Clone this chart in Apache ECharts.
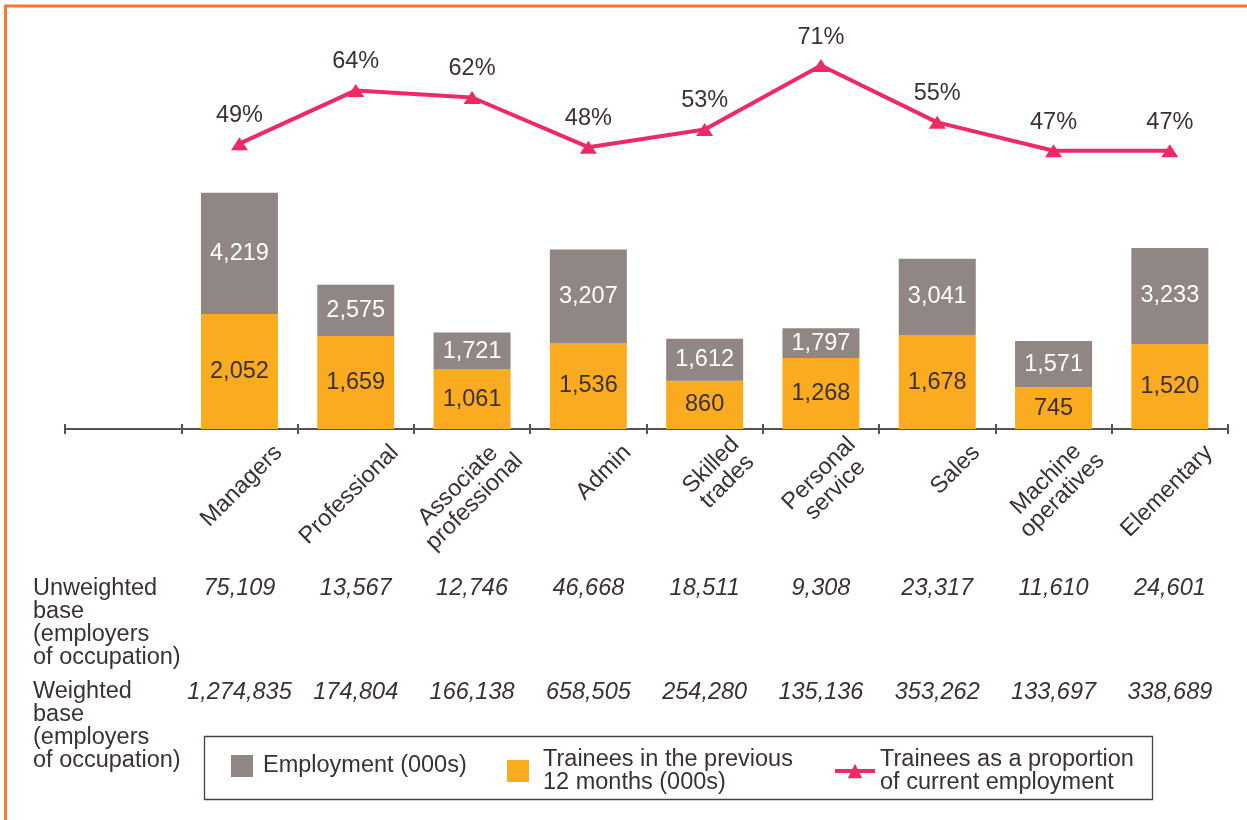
<!DOCTYPE html>
<html>
<head>
<meta charset="utf-8">
<script src="https://cdn.jsdelivr.net/npm/echarts@6/dist/echarts.min.js"></script>
<style>
  html, body { margin: 0; padding: 0; background: #ffffff; }
  #chart { width: 1247px; height: 820px; }
</style>
</head>
<body>
<div id="chart"></div>
<script>
// ---- Data ----
const categories = ['Managers', 'Professional', 'Associate\nprofessional', 'Admin', 'Skilled\ntrades', 'Personal\nservice', 'Sales', 'Machine\noperatives', 'Elementary'];
const employment = [4219, 2575, 1721, 3207, 1612, 1797, 3041, 1571, 3233];
const trainees = [2052, 1659, 1061, 1536, 860, 1268, 1678, 745, 1520];
const proportion = [49, 64, 62, 48, 53, 71, 55, 47, 47];
const unweightedBase = [75109, 13567, 12746, 46668, 18511, 9308, 23317, 11610, 24601];
const weightedBase = [1274835, 174804, 166138, 658505, 254280, 135136, 353262, 133697, 338689];
const rowTitles = ['Unweighted\nbase\n(employers\nof occupation)', 'Weighted\nbase\n(employers\nof occupation)'];
const seriesNames = ['Employment (000s)', 'Trainees in the previous\n12 months (000s)', 'Trainees as a proportion\nof current employment'];

// ---- Styling ----
const FONT = '"Liberation Sans", Arial, Helvetica, sans-serif';
const FS = 23.5;
const TXT = '#3b3134';
const GRAY = '#908683';
const ORANGE = '#fbab1f';
const PINK = '#ec2a65';
const AXIS = '#5b5054';

const fmt = n => n.toLocaleString('en-US');
const cats = [''].concat(categories);
const pad = arr => [null].concat(arr);
const grayPart = employment.map((e, i) => e - trainees[i]);

const chart = echarts.init(document.getElementById('chart'), null, { renderer: 'canvas' });

const gridBase = { top: 51, bottom: 391, containLabel: false, outerBoundsMode: 'none' };
const legendText = { fontFamily: FONT, fontSize: FS, color: TXT, lineHeight: 23 };

chart.setOption({
  animation: false,
  backgroundColor: '#ffffff',
  textStyle: { fontFamily: FONT, color: TXT },
  grid: [
    Object.assign({ left: 65, width: 1163 }, gridBase),
    Object.assign({ left: 104, width: 1163 }, gridBase)
  ],
  legend: [
    {
      data: [seriesNames[0]], left: 231, top: 754, padding: 0, itemWidth: 22, itemHeight: 22,
      icon: 'rect', selectedMode: false,
      textStyle: Object.assign({ padding: [0, 0, 0, 5] }, legendText)
    },
    {
      data: [seriesNames[1]], left: 507, top: 747.5, padding: 0, itemWidth: 22, itemHeight: 22,
      icon: 'rect', selectedMode: false,
      textStyle: Object.assign({ padding: [0, 0, 0, 9] }, legendText)
    },
    {
      data: [seriesNames[2]], left: 833, top: 747.5, padding: 0, itemWidth: 40, itemHeight: 18,
      selectedMode: false,
      lineStyle: { width: 4, color: PINK },
      itemStyle: { color: PINK },
      textStyle: Object.assign({ padding: [0, 0, 0, 0] }, legendText)
    }
  ],
  xAxis: [
    {
      gridIndex: 0, type: 'category', data: cats, position: 'bottom',
      axisLine: { show: true, onZero: false, lineStyle: { color: AXIS, width: 2 } },
      axisTick: { show: true, inside: false, length: 5, lineStyle: { color: AXIS, width: 2 } },
      axisLabel: { show: false }, splitLine: { show: false }
    },
    {
      gridIndex: 0, type: 'category', data: cats, position: 'bottom', offset: 0,
      axisLine: { show: false, onZero: false },
      axisTick: { show: true, inside: true, length: 5, lineStyle: { color: AXIS, width: 2 } },
      axisLabel: { show: false }, splitLine: { show: false }
    },
    {
      gridIndex: 0, type: 'category', data: [''].concat(unweightedBase.map(fmt)), position: 'bottom', offset: 148,
      axisLine: { show: false, onZero: false }, axisTick: { show: false }, splitLine: { show: false },
      axisLabel: { interval: 0, hideOverlap: false, margin: 0, fontFamily: FONT, fontSize: FS, fontStyle: 'italic', color: TXT, lineHeight: 23 }
    },
    {
      gridIndex: 0, type: 'category', data: [''].concat(weightedBase.map(fmt)), position: 'bottom', offset: 251.5,
      axisLine: { show: false, onZero: false }, axisTick: { show: false }, splitLine: { show: false },
      axisLabel: { interval: 0, hideOverlap: false, margin: 0, fontFamily: FONT, fontSize: FS, fontStyle: 'italic', color: TXT, lineHeight: 23 }
    },
    {
      gridIndex: 1, type: 'category', data: cats, position: 'bottom',
      axisLine: { show: false, onZero: false }, axisTick: { show: false }, splitLine: { show: false },
      axisLabel: {
        interval: 0, hideOverlap: false, rotate: 45, margin: 20, align: 'right',
        fontFamily: FONT, fontSize: FS, color: TXT, lineHeight: 23,
        formatter: v => v ? v.split('\n').map(s => '{c|' + s + '}').join('\n') : '',
        rich: { c: { align: 'center', fontFamily: FONT, fontSize: FS, color: TXT, lineHeight: 23 } }
      }
    }
  ],
  yAxis: [
    { gridIndex: 0, type: 'value', min: 0, max: 6750, show: false },
    { gridIndex: 0, type: 'value', min: -31.4, max: 75.1, show: false },
    { gridIndex: 1, type: 'value', min: 0, max: 1, show: false }
  ],
  series: [
    {
      name: seriesNames[1], type: 'bar', stack: 'occ', xAxisIndex: 0, yAxisIndex: 0,
      data: pad(trainees), barWidth: 77,
      itemStyle: { color: ORANGE },
      label: { show: true, position: 'inside', fontFamily: FONT, fontSize: FS, color: TXT,
        formatter: p => fmt(trainees[p.dataIndex - 1]) }
    },
    {
      name: seriesNames[0], type: 'bar', stack: 'occ', xAxisIndex: 0, yAxisIndex: 0,
      data: pad(grayPart), barWidth: 77,
      itemStyle: { color: GRAY },
      label: { show: true, position: 'inside', fontFamily: FONT, fontSize: FS, color: '#ffffff',
        formatter: p => fmt(employment[p.dataIndex - 1]) }
    },
    {
      name: seriesNames[2], type: 'line', xAxisIndex: 0, yAxisIndex: 1,
      data: pad(proportion),
      symbol: 'triangle', symbolSize: [17, 13],
      lineStyle: { color: PINK, width: 4 },
      itemStyle: { color: PINK },
      label: { show: true, position: 'top', distance: 10, fontFamily: FONT, fontSize: FS, color: TXT,
        formatter: p => p.value + '%' }
    }
  ],
  graphic: [
    {
      type: 'rect', silent: true,
      shape: { x: 5.5, y: 6, width: 1400, height: 1000 },
      style: { fill: 'none', stroke: '#f47b2e', lineWidth: 3 }
    },
    {
      type: 'rect', silent: true,
      shape: { x: 204.5, y: 736.5, width: 948, height: 63 },
      style: { fill: 'none', stroke: '#4a4044', lineWidth: 1.3 }
    },
    {
      type: 'text', silent: true, left: 33, top: 577,
      style: { text: rowTitles[0], fontFamily: FONT, fontSize: FS, lineHeight: 23, fill: TXT }
    },
    {
      type: 'text', silent: true, left: 33, top: 680,
      style: { text: rowTitles[1], fontFamily: FONT, fontSize: FS, lineHeight: 23, fill: TXT }
    }
  ]
});
</script>
</body>
</html>
